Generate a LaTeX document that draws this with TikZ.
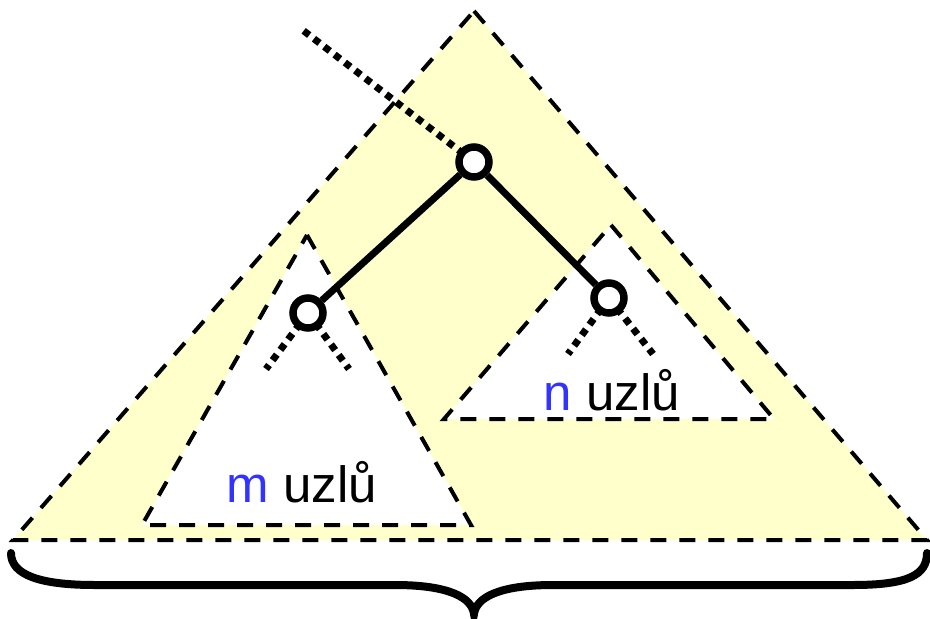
\documentclass[tikz,border=0pt]{standalone}
\usepackage{fontspec}
\setmainfont{Liberation Sans}
\definecolor{paleyellow}{HTML}{FFFFCC}
\definecolor{textblue}{HTML}{3333FF}
\begin{document}
\begin{tikzpicture}[x=1pt,y=-1pt,
  dashline/.style={line width=4pt,dash pattern=on 16pt off 13pt},
  dotline/.style={line width=7pt,dash pattern=on 7pt off 6pt},
  edgeline/.style={line width=7pt},
  treenode/.style={circle,draw,fill=white,line width=7.5pt,minimum size=30pt,inner sep=0pt},
  label/.style={font=\fontsize{51}{60}\selectfont,anchor=base,inner sep=0pt},
  bracestyle/.style={line width=8pt,line cap=round}]
\useasboundingbox (0,0) rectangle (930,619);
% big triangle
\fill[paleyellow] (474,11) -- (927,540) -- (13,540) -- cycle;
% subtrees
\fill[white] (307,235) -- (471,525) -- (142,525) -- cycle;
\fill[white] (611,225) -- (774,419) -- (444,419) -- cycle;
\draw[dashline] (474,11) -- (927,540) -- (13,540) -- cycle;
\draw[dashline] (307,235) -- (471,525) -- (142,525) -- cycle;
\draw[dashline] (611,225) -- (774,419) -- (444,419) -- cycle;
% coordinates
\coordinate (up) at (300,28);
\coordinate (l1) at (266,369);
\coordinate (l2) at (349,369);
\coordinate (r1) at (568,354);
\coordinate (r2) at (653,354);
\coordinate (rootc) at (474,162);
\coordinate (lcc) at (308,313);
\coordinate (rcc) at (609,298);
% dotted and edges
\draw[dotline] (rootc) -- (up);
\draw[dotline] (lcc) -- (l1);
\draw[dotline] (lcc) -- (l2);
\draw[dotline] (rcc) -- (r1);
\draw[dotline] (rcc) -- (r2);
\node[treenode] (root) at (rootc) {};
\node[treenode] (lc) at (lcc) {};
\node[treenode] (rc) at (rcc) {};
\draw[edgeline] (root) -- (lc);
\draw[edgeline] (root) -- (rc);
% labels
\node[label] (mlab) at (302,502) {\textcolor{textblue}{m} uzlů};
\node[label] (nlab) at (612,410) {\textcolor{textblue}{n} uzlů};
% brace
\draw[bracestyle] (11,553) .. controls (11,575) and (40,585) .. (95,585)
  -- (395,585) .. controls (450,585) and (472,598) .. (474,614)
  .. controls (476,598) and (498,585) .. (553,585)
  -- (853,585) .. controls (908,585) and (927,575) .. (927,553);
\end{tikzpicture}
\end{document}
